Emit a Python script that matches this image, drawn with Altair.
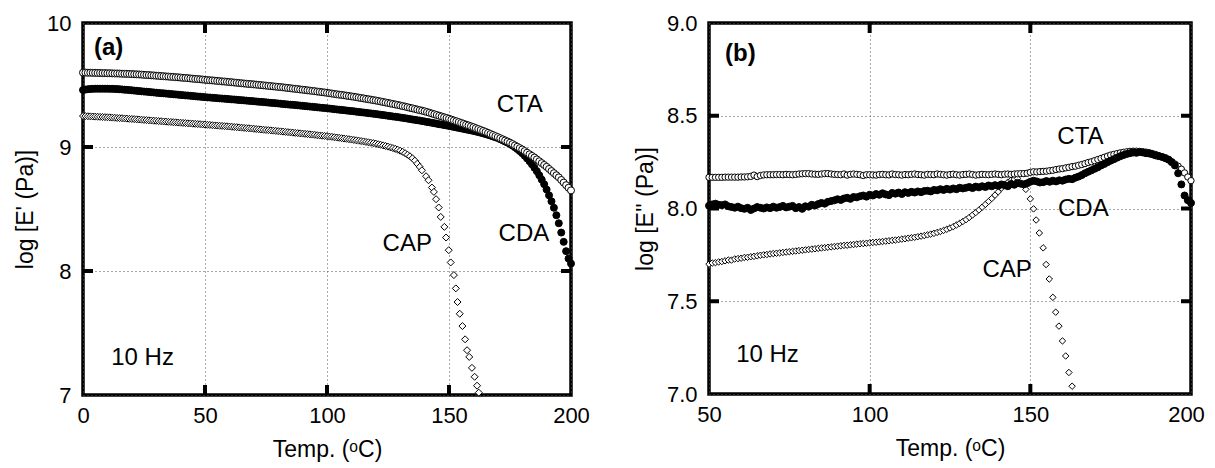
import altair as alt
import pandas as pd

FONT = "Liberation Sans"

# ---------------- Panel (a): log E' ----------------
a_T_dense = list(range(0, 201))
a_cta = [
    9.600, 9.600, 9.599, 9.599, 9.598, 9.598, 9.597, 9.597, 9.596, 9.596,
    9.595, 9.595, 9.594, 9.593, 9.593, 9.592, 9.591, 9.590, 9.590, 9.589,
    9.588, 9.587, 9.586, 9.585, 9.584, 9.582, 9.581, 9.580, 9.578, 9.577,
    9.575, 9.574, 9.572, 9.571, 9.569, 9.568, 9.566, 9.565, 9.563, 9.562,
    9.560, 9.558, 9.557, 9.555, 9.553, 9.551, 9.549, 9.548, 9.546, 9.544,
    9.542, 9.540, 9.538, 9.537, 9.535, 9.533, 9.531, 9.529, 9.528, 9.526,
    9.524, 9.522, 9.520, 9.518, 9.516, 9.514, 9.512, 9.510, 9.508, 9.507,
    9.505, 9.503, 9.501, 9.499, 9.497, 9.495, 9.493, 9.491, 9.489, 9.487,
    9.485, 9.483, 9.481, 9.478, 9.476, 9.474, 9.471, 9.469, 9.467, 9.464,
    9.462, 9.460, 9.457, 9.455, 9.452, 9.450, 9.447, 9.445, 9.442, 9.440,
    9.437, 9.434, 9.431, 9.428, 9.425, 9.422, 9.420, 9.417, 9.414, 9.411,
    9.408, 9.405, 9.402, 9.398, 9.395, 9.392, 9.388, 9.385, 9.382, 9.378,
    9.375, 9.371, 9.367, 9.363, 9.359, 9.355, 9.351, 9.347, 9.343, 9.339,
    9.335, 9.330, 9.326, 9.321, 9.316, 9.312, 9.307, 9.302, 9.297, 9.293,
    9.288, 9.282, 9.276, 9.270, 9.264, 9.258, 9.252, 9.246, 9.240, 9.234,
    9.228, 9.221, 9.214, 9.208, 9.201, 9.194, 9.187, 9.180, 9.174, 9.167,
    9.160, 9.152, 9.145, 9.137, 9.130, 9.122, 9.114, 9.105, 9.097, 9.088,
    9.080, 9.071, 9.062, 9.053, 9.044, 9.035, 9.024, 9.013, 9.002, 8.991,
    8.980, 8.967, 8.954, 8.941, 8.928, 8.915, 8.900, 8.885, 8.870, 8.855,
    8.840, 8.823, 8.806, 8.789, 8.772, 8.755, 8.734, 8.713, 8.692, 8.671,
    8.650,
]
a_cda = [
    9.460, 9.463, 9.466, 9.468, 9.469, 9.470, 9.470, 9.470, 9.470, 9.470,
    9.470, 9.469, 9.469, 9.468, 9.467, 9.466, 9.464, 9.462, 9.461, 9.459,
    9.457, 9.455, 9.453, 9.451, 9.449, 9.447, 9.446, 9.444, 9.442, 9.440,
    9.438, 9.436, 9.434, 9.433, 9.431, 9.429, 9.427, 9.425, 9.424, 9.422,
    9.420, 9.418, 9.416, 9.415, 9.413, 9.411, 9.409, 9.407, 9.406, 9.404,
    9.402, 9.400, 9.399, 9.397, 9.396, 9.394, 9.392, 9.391, 9.389, 9.388,
    9.386, 9.384, 9.383, 9.381, 9.379, 9.378, 9.376, 9.374, 9.372, 9.371,
    9.369, 9.367, 9.365, 9.364, 9.362, 9.360, 9.358, 9.356, 9.355, 9.353,
    9.351, 9.349, 9.347, 9.345, 9.343, 9.341, 9.340, 9.338, 9.336, 9.334,
    9.332, 9.330, 9.328, 9.326, 9.324, 9.322, 9.320, 9.318, 9.316, 9.314,
    9.312, 9.310, 9.308, 9.305, 9.303, 9.301, 9.299, 9.297, 9.294, 9.292,
    9.290, 9.288, 9.285, 9.283, 9.280, 9.278, 9.276, 9.273, 9.271, 9.268,
    9.266, 9.263, 9.260, 9.258, 9.255, 9.252, 9.249, 9.246, 9.244, 9.241,
    9.238, 9.235, 9.232, 9.229, 9.225, 9.222, 9.219, 9.216, 9.213, 9.209,
    9.206, 9.202, 9.199, 9.195, 9.192, 9.188, 9.184, 9.181, 9.177, 9.174,
    9.170, 9.166, 9.162, 9.158, 9.154, 9.150, 9.146, 9.142, 9.138, 9.134,
    9.130, 9.125, 9.120, 9.115, 9.110, 9.104, 9.098, 9.092, 9.085, 9.079,
    9.072, 9.063, 9.054, 9.044, 9.035, 9.025, 9.012, 8.998, 8.983, 8.967,
    8.950, 8.930, 8.908, 8.885, 8.860, 8.833, 8.805, 8.772, 8.737, 8.700,
    8.657, 8.610, 8.562, 8.510, 8.450, 8.385, 8.310, 8.235, 8.160, 8.100,
    8.060,
]
a_cap_T = list(range(0, 139)) + [
    138.9, 140.6, 141.6, 143.0, 143.8, 144.7, 145.8, 146.6, 148.1, 148.8,
    149.9, 150.7, 152.0, 152.8, 153.5, 154.4, 155.5, 156.6, 157.4, 158.3,
    159.4, 160.5, 161.5, 162.2,
]
a_cap = [
    9.250, 9.249, 9.248, 9.247, 9.246, 9.245, 9.244, 9.243, 9.242, 9.241,
    9.240, 9.239, 9.237, 9.236, 9.234, 9.233, 9.232, 9.230, 9.229, 9.227,
    9.226, 9.225, 9.223, 9.222, 9.220, 9.218, 9.217, 9.215, 9.214, 9.212,
    9.211, 9.209, 9.208, 9.206, 9.205, 9.203, 9.202, 9.200, 9.199, 9.197,
    9.196, 9.194, 9.193, 9.191, 9.190, 9.188, 9.187, 9.185, 9.184, 9.182,
    9.181, 9.179, 9.178, 9.176, 9.174, 9.173, 9.171, 9.170, 9.168, 9.167,
    9.165, 9.163, 9.161, 9.160, 9.158, 9.156, 9.154, 9.152, 9.151, 9.149,
    9.147, 9.145, 9.143, 9.141, 9.139, 9.137, 9.136, 9.134, 9.132, 9.130,
    9.128, 9.126, 9.124, 9.122, 9.120, 9.118, 9.116, 9.114, 9.112, 9.110,
    9.108, 9.106, 9.104, 9.102, 9.100, 9.098, 9.095, 9.093, 9.091, 9.089,
    9.087, 9.084, 9.082, 9.079, 9.076, 9.074, 9.071, 9.068, 9.066, 9.063,
    9.060, 9.057, 9.054, 9.051, 9.048, 9.045, 9.041, 9.038, 9.034, 9.031,
    9.027, 9.022, 9.018, 9.013, 9.008, 9.003, 8.997, 8.991, 8.985, 8.978,
    8.970, 8.961, 8.950, 8.938, 8.925, 8.909, 8.890, 8.865, 8.840,
    8.812, 8.764, 8.732, 8.673, 8.638, 8.579, 8.512, 8.436, 8.356, 8.270,
    8.168, 8.069, 7.967, 7.860, 7.750, 7.655, 7.556, 7.449, 7.361, 7.307,
    7.219, 7.147, 7.075, 7.019,
]
a_labels = ["CTA", "CDA", "CAP", "10 Hz"]
a_label_T = [179.0, 180.7, 132.9, 24.4]
a_label_v = [9.34, 8.30, 8.22, 7.295]
a_tag = "(a)"
a_tag_T, a_tag_v = 4.5, 9.80

# ---------------- Panel (b): log E'' ----------------
b_T_dense = list(range(50, 201))
b_cta = [
    8.168, 8.168, 8.168, 8.168, 8.168, 8.169, 8.169, 8.169, 8.169, 8.169,
    8.170, 8.170, 8.171, 8.173, 8.180, 8.172, 8.178, 8.181, 8.182, 8.182,
    8.182, 8.183, 8.183, 8.182, 8.184, 8.183, 8.182, 8.184, 8.186, 8.187,
    8.188, 8.188, 8.186, 8.185, 8.184, 8.186, 8.188, 8.188, 8.186, 8.184,
    8.183, 8.182, 8.186, 8.180, 8.184, 8.186, 8.184, 8.182, 8.178, 8.182,
    8.182, 8.181, 8.180, 8.183, 8.184, 8.182, 8.181, 8.186, 8.183, 8.182,
    8.180, 8.183, 8.182, 8.184, 8.186, 8.183, 8.182, 8.180, 8.184, 8.183,
    8.182, 8.186, 8.184, 8.182, 8.180, 8.183, 8.185, 8.182, 8.180, 8.183,
    8.184, 8.186, 8.183, 8.180, 8.182, 8.184, 8.183, 8.182, 8.184, 8.186,
    8.184, 8.182, 8.185, 8.186, 8.184, 8.186, 8.187, 8.188, 8.188, 8.190,
    8.195, 8.198, 8.197, 8.199, 8.200, 8.201, 8.204, 8.206, 8.210, 8.213,
    8.215, 8.219, 8.222, 8.226, 8.228, 8.233, 8.237, 8.242, 8.248, 8.252,
    8.258, 8.264, 8.270, 8.276, 8.282, 8.288, 8.292, 8.296, 8.300, 8.303,
    8.306, 8.308, 8.309, 8.309, 8.308, 8.306, 8.304, 8.301, 8.296, 8.291,
    8.285, 8.278, 8.270, 8.262, 8.252, 8.240, 8.228, 8.212, 8.192, 8.170,
    8.150,
]
b_cda = [
    8.015, 8.022, 8.026, 8.020, 8.018, 8.022, 8.012, 8.008, 8.004, 8.010,
    8.002, 7.998, 8.004, 7.992, 8.000, 8.008, 8.004, 8.000, 8.006, 8.002,
    8.010, 8.004, 8.008, 8.014, 8.006, 8.010, 8.014, 8.002, 8.008, 7.998,
    8.012, 8.010, 8.020, 8.016, 8.024, 8.030, 8.026, 8.036, 8.040, 8.044,
    8.050, 8.046, 8.054, 8.058, 8.052, 8.062, 8.060, 8.066, 8.070, 8.064,
    8.074, 8.070, 8.078, 8.074, 8.082, 8.076, 8.072, 8.084, 8.080, 8.086,
    8.078, 8.088, 8.084, 8.090, 8.086, 8.092, 8.088, 8.094, 8.096, 8.092,
    8.100, 8.098, 8.104, 8.100, 8.106, 8.102, 8.108, 8.104, 8.112, 8.108,
    8.112, 8.116, 8.110, 8.118, 8.114, 8.120, 8.116, 8.124, 8.120, 8.126,
    8.122, 8.130, 8.126, 8.120, 8.132, 8.128, 8.138, 8.134, 8.130, 8.136,
    8.144, 8.150, 8.146, 8.140, 8.142, 8.148, 8.144, 8.150, 8.146, 8.152,
    8.150, 8.156, 8.160, 8.158, 8.166, 8.172, 8.180, 8.190, 8.198, 8.206,
    8.214, 8.222, 8.232, 8.240, 8.250, 8.258, 8.266, 8.274, 8.282, 8.288,
    8.294, 8.298, 8.302, 8.300, 8.304, 8.302, 8.298, 8.296, 8.292, 8.286,
    8.282, 8.278, 8.272, 8.264, 8.250, 8.232, 8.190, 8.130, 8.070, 8.045,
    8.030,
]
b_cap_T = list(range(50, 147)) + [
    148.6, 150.0, 151.0, 151.8, 152.8, 154.0, 154.9, 155.9, 157.0, 157.9,
    158.9, 160.0, 161.0, 162.0, 163.0,
]
b_cap = [
    7.700, 7.706, 7.708, 7.712, 7.714, 7.718, 7.722, 7.722, 7.728, 7.730,
    7.732, 7.736, 7.737, 7.740, 7.742, 7.745, 7.748, 7.750, 7.752, 7.755,
    7.757, 7.759, 7.761, 7.763, 7.765, 7.767, 7.769, 7.771, 7.773, 7.775,
    7.777, 7.779, 7.781, 7.783, 7.785, 7.787, 7.789, 7.791, 7.793, 7.795,
    7.797, 7.799, 7.801, 7.802, 7.804, 7.806, 7.808, 7.810, 7.811, 7.813,
    7.815, 7.817, 7.818, 7.820, 7.822, 7.824, 7.826, 7.828, 7.830, 7.832,
    7.835, 7.837, 7.840, 7.842, 7.845, 7.848, 7.851, 7.854, 7.858, 7.862,
    7.866, 7.871, 7.876, 7.882, 7.888, 7.895, 7.902, 7.911, 7.920, 7.930,
    7.940, 7.952, 7.965, 7.978, 7.992, 8.007, 8.022, 8.038, 8.054, 8.072,
    8.090, 8.110, 8.128, 8.142, 8.152, 8.158, 8.162,
    8.103, 8.052, 7.998, 7.938, 7.868, 7.788, 7.698, 7.620, 7.521, 7.441,
    7.366, 7.286, 7.205, 7.116, 7.042,
]
b_labels = ["CTA", "CDA", "CAP", "10 Hz"]
b_label_T = [165.6, 166.5, 142.8, 68.2]
b_label_v = [8.385, 8.0, 7.666, 7.21]
b_tag = "(b)"
b_tag_T, b_tag_v = 55.0, 8.835

X_TITLE = "Temp. (ᵒC)"


def panel(W, H, xdom, ydom, xvals, yvals, xin, yin, yfmt, ytitle,
          cta, cda, cap, labels, tag, order_cda_top, sz, last_shift):
    xs = alt.Scale(domain=xdom, nice=False, zero=False, padding=0)
    ys = alt.Scale(domain=ydom, nice=False, zero=False, padding=0)
    xax = alt.Axis(
        values=xvals, format="d", title=X_TITLE, grid=True,
        labelFlush=False, labelPadding=10, titlePadding=12,
        labelOffset={"condition": {"test": "datum.value == 200", "value": last_shift},
                     "value": 0},
    )
    yax = alt.Axis(values=yvals, format=yfmt, title=ytitle, grid=True,
                   labelFlush=False, labelPadding=12, titlePadding=9)
    X = alt.X("T:Q", scale=xs, axis=xax)
    Y = alt.Y("v:Q", scale=ys, axis=yax)

    def pts(df, shape, fill, size):
        return alt.Chart(df).mark_point(
            shape=shape, filled=True, fill=fill, stroke="black",
            strokeWidth=1, size=size, opacity=1
        ).encode(x=X, y=Y)

    l_cap = pts(cap, "diamond", "white", sz["cap"])
    l_cta = pts(cta, "circle", "white", sz["cta"])
    l_cda = pts(cda, "circle", "black", sz["cda"])
    series = [l_cap, l_cta, l_cda] if order_cda_top else [l_cap, l_cda, l_cta]

    xt = pd.DataFrame({"T": xin})
    yt = pd.DataFrame({"v": yin})
    rule = dict(color="black", strokeWidth=4)
    ticks = [
        alt.Chart(xt).mark_rule(**rule).encode(x=X, y=alt.value(H), y2=alt.value(H - 10)),
        alt.Chart(xt).mark_rule(**rule).encode(x=X, y=alt.value(0), y2=alt.value(10)),
        alt.Chart(yt).mark_rule(**rule).encode(y=Y, x=alt.value(0), x2=alt.value(10)),
        alt.Chart(yt).mark_rule(**rule).encode(y=Y, x=alt.value(W - 10), x2=alt.value(W)),
    ]
    txt = alt.Chart(labels).mark_text(
        font=FONT, fontSize=24, color="black", align="center", baseline="middle"
    ).encode(x=X, y=Y, text="label:N")
    tg = alt.Chart(tag).mark_text(
        font=FONT, fontSize=24, fontWeight="bold", color="black",
        align="left", baseline="middle"
    ).encode(x=X, y=Y, text="label:N")
    return alt.layer(*series, *ticks, txt, tg).properties(width=W, height=H)


a_panel = panel(
    488, 372, [0, 200], [7, 10], [0, 50, 100, 150, 200], [7, 8, 9, 10],
    [50, 100, 150], [8, 9], "d", "log [E' (Pa)]",
    pd.DataFrame({"T": a_T_dense, "v": a_cta}),
    pd.DataFrame({"T": a_T_dense, "v": a_cda}),
    pd.DataFrame({"T": a_cap_T, "v": a_cap}),
    pd.DataFrame({"T": a_label_T, "v": a_label_v, "label": a_labels}),
    pd.DataFrame({"T": [a_tag_T], "v": [a_tag_v], "label": [a_tag]}),
    False, {"cap": 49, "cta": 49, "cda": 49}, 0,
)
b_panel = panel(
    482, 371, [50, 200], [7, 9], [50, 100, 150, 200], [7.0, 7.5, 8.0, 8.5, 9.0],
    [100, 150], [7.5, 8.0, 8.5], ".1f", "log [E'' (Pa)]",
    pd.DataFrame({"T": b_T_dense, "v": b_cta}),
    pd.DataFrame({"T": b_T_dense, "v": b_cda}),
    pd.DataFrame({"T": b_cap_T, "v": b_cap}),
    pd.DataFrame({"T": b_label_T, "v": b_label_v, "label": b_labels}),
    pd.DataFrame({"T": [b_tag_T], "v": [b_tag_v], "label": [b_tag]}),
    True, {"cap": 42, "cta": 40, "cda": 49}, -5,
)

chart = alt.hconcat(a_panel, b_panel, spacing=40).properties(
    padding={"left": 4, "top": 2, "right": 0, "bottom": 0},
    background="white",
).configure_view(
    stroke="black", strokeWidth=3.5
).configure_axis(
    domain=False, ticks=False,
    labelFont=FONT, labelFontSize=22, labelColor="black",
    titleFont=FONT, titleFontSize=23, titleFontWeight="normal", titleColor="black",
    gridColor="#555555", gridDash=[1, 3], gridWidth=1, gridOpacity=1,
)

chart.save("out.html", embed_options={"renderer": "svg", "actions": False})
